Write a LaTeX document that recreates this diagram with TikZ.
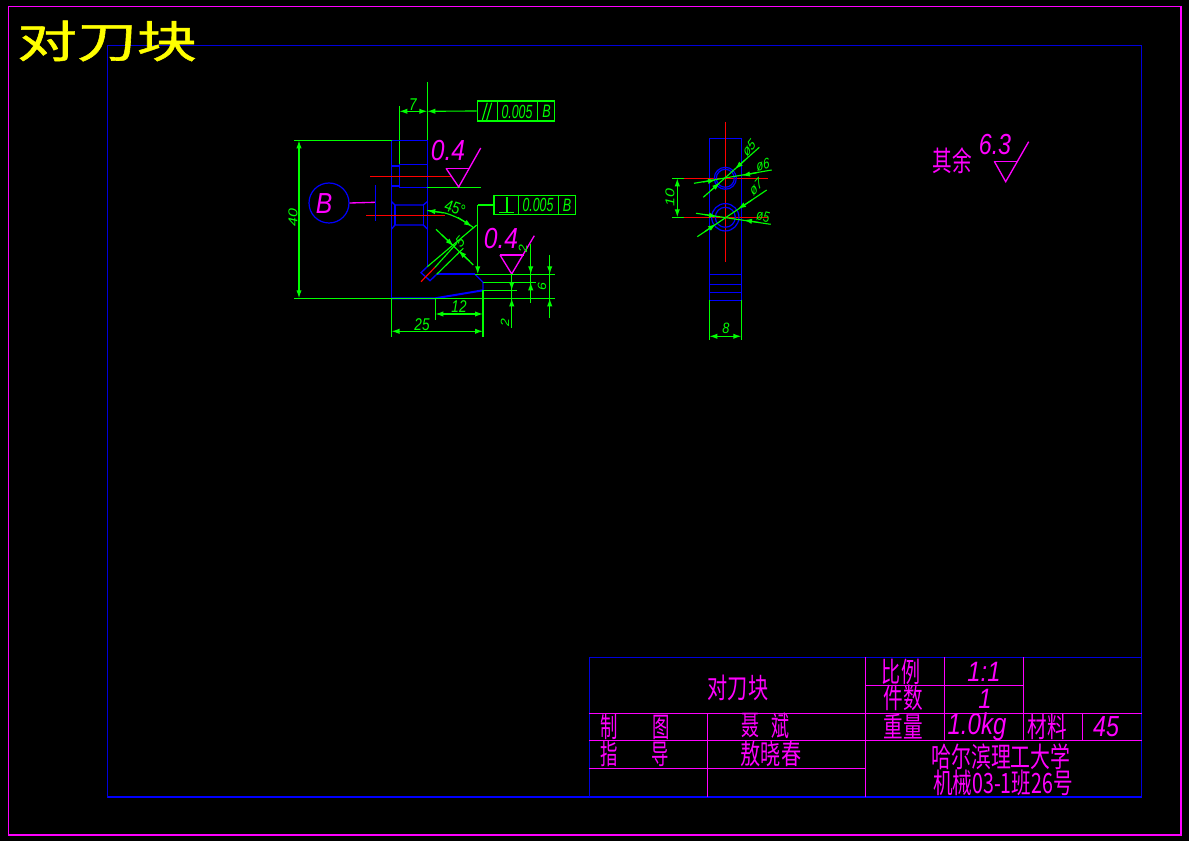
\documentclass[tikz,border=0pt]{standalone}
\usepackage{fontspec}
\usetikzlibrary{arrows.meta}
\newfontfamily\cjk{Noto Sans CJK SC}
\newfontfamily\cjkb[FakeBold=1]{Noto Sans CJK SC}
\setmainfont{Liberation Sans}
\definecolor{mg}{RGB}{255,0,255}
\definecolor{gr}{RGB}{0,255,0}
\definecolor{bl}{RGB}{0,0,255}
\definecolor{dbl}{RGB}{0,0,220}
\definecolor{rd}{RGB}{255,0,0}
\definecolor{yl}{RGB}{255,255,0}
\newcommand{\pxfont}[1]{\fontsize{\the\dimexpr #1pt*3/4\relax}{\the\dimexpr #1pt*3/4\relax}\selectfont}
\tikzset{
  gl/.style={draw=gr,line width=.85pt},
  bln/.style={draw=bl,line width=1pt},
  blt/.style={draw=bl,line width=1.5pt},
  fr/.style={draw=dbl,line width=.6pt},
  rl/.style={draw=rd,line width=1.1pt},
  ml/.style={draw=mg,line width=1pt},
  dim/.style={gl,{Latex[length=6pt,width=4pt,fill=gr]}-{Latex[length=6pt,width=4pt,fill=gr]}},
  tip/.style={gl,-{Latex[length=6pt,width=4pt,fill=gr]}},
  txt/.style={inner sep=0,outer sep=0,transform shape},
  cn/.style 2 args={txt,text=mg,font=\cjk\pxfont{#1},xscale=#2},
  en/.style 2 args={txt,text=mg,font=\itshape\pxfont{#1},xscale=#2},
  gt/.style 2 args={txt,text=gr,font=\itshape\pxfont{#1},xscale=#2},
}
\begin{document}
\begin{tikzpicture}[x=.75pt,y=-.75pt]
\useasboundingbox (0,0) rectangle (1189,841);
\fill[black] (0,0) rectangle (1189,841);
% frames
\draw[draw=mg,line width=.9pt] (8.5,6.5) rectangle (1181,835);
\draw[fr] (107.5,45.5) rectangle (1141.5,797);
\draw[blt] (107.5,797) -- (1141.5,797);
% title
\node[txt,text=yl,font=\cjkb\fontsize{33}{33}\selectfont,xscale=1.36] (ttl) at (107,41) {对刀块};
% ---- main view -----
\draw[gl] (427.3,82) -- (427.3,140.3);
\draw[gl] (399.3,106) -- (399.3,165);
\coordinate (d7a) at (399.3,111.3); \coordinate (d7b) at (427.3,111.3);
\draw[dim] (d7a) -- (d7b);
\node[draw=gr,line width=.9pt,minimum width=58pt,minimum height=15pt,inner sep=0,anchor=center] (box1) at (516,111) {};
\draw[tip] (box1.west) -- (d7b);
\draw[gl] (497.3,101) -- (497.3,121) (537.3,101) -- (537.3,121);
\draw[gl] (482.3,120) -- (487.3,102.7) (486.7,120) -- (491.7,102.7);
\node[gt={19}{.65}] (t1) at (517,111.7) {0.005};
\node[gt={18}{.7}] (t2) at (546.5,111.5) {B};
\node[gt={17}{.8}] (t7) at (413,105) {7};
% blue body
\draw[bln] (391.5,140.3) -- (427.3,140.3) -- (427.3,266.7);
\draw[bln] (391.5,140.3) -- (391.5,298.3);
\draw[bln] (399.3,165) -- (399.3,187.3);
\draw[bln] (399.3,164.5) -- (427.3,164.5) (391.5,166) -- (399.3,166) (391.5,186) -- (399.3,186) (399.3,187.3) -- (427.3,187.3);
\draw[bln] (391.5,201.7) -- (395,205) -- (423.3,205) -- (427.3,201.7);
\draw[bln] (391.5,229) -- (395,225) -- (423.3,225) -- (427.3,229);
\draw[bln] (395,205) -- (395,225) (423.3,205) -- (423.3,225);
\draw[bln] (427.3,266.7) -- (421,272.7) -- (430,280.7) -- (436.7,274.3);
\draw[blt] (436.7,274.3) -- (475,274.3);
\draw[bln] (475,274.3) -- (483,282.3) -- (483,290.3);
\draw[blt] (483,290.3) -- (435.3,298.3) -- (391.5,298.3);
% red
\draw[rl] (370,176.3) -- (451.7,176.3);
\draw[rl] (366,215.3) -- (445,215.3);
\draw[draw=rd,line width=.9pt] (421,281.7) -- (435,267.3);
% B circle
\node[circle,draw=bl,line width=.9pt,minimum size=30pt,inner sep=0] (cB) at (329,203) {};
\node[en={29}{.85}] (tB) at (324,204) {B};
\coordinate (bm) at (375.5,202.3);
\draw[ml] (cB.east) -- (bm);
\draw[bln] (375.5,185) -- (375.5,220.7);
% dim 40
\draw[gl] (294,140.3) -- (391.5,140.3);
\draw[gl] (294,298.3) -- (555,298.3);
\draw[dim] (299,140.3) -- (299,298.3);
\node[gt={16}{.8},rotate=90] (t40) at (293,218) {40};
% lines right
\draw[gl] (427.3,187.3) -- (481,187.3);
\draw[ml] (446,168.3) -- (469.3,168.3);
\draw[ml] (446,168.3) -- (458.7,187) -- (480.7,148);
\node[en={29}{.85}] (t04a) at (448,151) {0.4};
% 45 deg
\draw[gl] (427.3,210.5) -- (445,213) .. controls (455,216) and (463,220) .. (474,228);
\draw[tip] (443,212.7) -- (427.3,210.5);
\draw[tip] (458,217.5) -- (472,226.5);
\node[gt={17}{.8},rotate=-15] (t45) at (455,208) {45°};
% section diagonals
\draw[gl] (476.7,225) -- (427.3,266.7);
\draw[gl] (463.3,248.3) -- (436.7,274.3);
\draw[gl] (435,267.3) -- (456.7,243.3);
\draw[gl] (436,229.3) -- (473.3,265);
\draw[tip] (442,235) -- (453.5,246);
\draw[tip] (470,261.5) -- (458.5,250.5);
\node[gt={15}{.85},rotate=45] (t5) at (460,241.7) {5};
% box 2
\node[draw=gr,line width=.9pt,minimum width=61pt,minimum height=14.5pt,inner sep=0] (box2) at (534.7,205) {};
\coordinate (p2) at (477.7,205);
\coordinate (p3) at (477.7,274.3);
\draw[gl] (box2.west) -- (p2);
\draw[tip] (p2) -- (p3);
\draw[gl] (518.7,195) -- (518.7,214) (558.7,195) -- (558.7,214);
\draw[gl] (507,197) -- (507,212.7) (499,212.7) -- (514,212.7);
\node[gt={19}{.65}] (t3) at (538,205) {0.005};
\node[gt={18}{.7}] (t4) at (567,205.5) {B};
% roughness 2
\draw[ml] (500,255) -- (524.3,255);
\draw[ml] (500,255) -- (511.7,274) -- (534.3,235.7);
\node[en={29}{.85}] (t04b) at (501,239) {0.4};
% stacked extension lines
\draw[gl] (475,274.3) -- (555,274.3);
\draw[gl] (483,282.3) -- (536,282.3);
\draw[gl] (483,290.3) -- (516.7,290.3);
\draw[gl] (511.7,274) -- (511.7,328);
\draw[gl] (530.7,244) -- (530.7,302.7);
\draw[gl] (549.7,255) -- (549.7,318.3);
\draw[tip] (511.7,277) -- (511.7,290.3);
\draw[tip] (511.7,312) -- (511.7,298.3);
\draw[tip] (530.7,260) -- (530.7,274.3);
\draw[tip] (530.7,297) -- (530.7,282.3);
\draw[tip] (549.7,260) -- (549.7,274.3);
\draw[tip] (549.7,312) -- (549.7,298.3);
\node[gt={14}{.85},rotate=90] (t2a) at (523,249) {2};
\node[gt={14}{.85},rotate=90] (t6) at (542,287) {6};
\node[gt={14}{.85},rotate=90] (t2b) at (505,323) {2};
% bottom dims
\draw[gl] (435.3,298.3) -- (435.3,320);
\draw[gl] (483,290.3) -- (483,336.7);
\draw[gl] (391.5,298.3) -- (391.5,336.7);
\draw[dim] (435.3,314) -- (483,314);
\draw[dim] (391.5,331.3) -- (483,331.3);
\node[gt={17}{.8}] (t12) at (459,307) {12};
\node[gt={17}{.8}] (t25) at (422,324.5) {25};
% ---- side view ----
\draw[bln] (709.3,300.3) -- (709.3,138.3) -- (741.3,138.3) -- (741.3,300.3);
\draw[bln] (709.3,274.3) -- (741.3,274.3) (709.3,284.3) -- (741.3,284.3) (709.3,292.3) -- (741.3,292.3) (709.3,300.3) -- (741.3,300.3);
\draw[rl] (725.3,122) -- (725.3,262);
\draw[rl] (684,178.3) -- (768,178.3);
\draw[rl] (684,217.3) -- (768,217.3);
\draw[gl] (672,178.3) -- (684,178.3) (672,217.3) -- (684,217.3);
\draw[dim] (677.3,178.3) -- (677.3,217.3);
\node[gt={16}{.8},rotate=90] (t10) at (670,198) {10};
\node[circle,draw=bl,line width=.9pt,minimum size=16.5pt,inner sep=0] (c1) at (725.3,178.3) {};
\node[circle,draw=bl,line width=.9pt,minimum size=13.5pt,inner sep=0] (c2) at (725.3,178.3) {};
\node[circle,draw=bl,line width=.9pt,minimum size=20.5pt,inner sep=0] (c3) at (725.3,217.3) {};
\node[circle,draw=bl,line width=.9pt,minimum size=15pt,inner sep=0] (c4) at (725.3,217.3) {};
\draw[gl] (703.3,197.3) -- (759.3,147.3);
\draw[gl] (694,183.3) -- (771.7,170);
\draw[gl] (697.3,236.7) -- (766.7,190);
\draw[gl] (696,213.3) -- (770.7,224.3);
\draw[tip] (711,190.5) -- (720,182.5);
\draw[tip] (745,160) -- (735,169);
\draw[tip] (703,182) -- (716,180);
\draw[tip] (757,172.7) -- (742,175.5);
\draw[tip] (705,231.5) -- (716,224);
\draw[tip] (752,200) -- (738,209);
\draw[tip] (704,214.5) -- (717,216.5);
\draw[tip] (759,222.5) -- (744,220);
\node[gt={15}{.75},rotate=45] (p5a) at (749,148) {ø5};
\node[gt={15}{.75},rotate=10] (p6) at (763,165) {ø6};
\node[gt={15}{.75},rotate=40] (p7) at (756,187) {ø7};
\node[gt={15}{.75},rotate=-10] (p5b) at (763,216) {ø5};
\draw[gl] (709.3,300.3) -- (709.3,340) (741.3,300.3) -- (741.3,340);
\draw[dim] (709.3,336.3) -- (741.3,336.3);
\node[gt={15}{.85}] (t8) at (726,328) {8};
% roughness note
\node[cn={28}{.7}] (qy) at (952,161) {其余};
\node[en={29}{.8}] (t63) at (995,145) {6.3};
\draw[ml] (994.3,161.3) -- (1017.3,161.3);
\draw[ml] (994.3,161.3) -- (1005.7,181.7) -- (1028.7,141.7);
% ---- title block ----
\draw[fr] (589.3,657.3) -- (1141.5,657.3);
\draw[fr] (589.3,657.3) -- (589.3,797);
\draw[ml] (865.3,657.3) -- (865.3,797);
\draw[ml] (944.3,657.3) -- (944.3,740.3) (1023.3,657.3) -- (1023.3,740.3) (1082.3,713.3) -- (1082.3,740.3);
\draw[ml] (865.3,685.3) -- (1023.3,685.3);
\draw[ml] (589.3,713.3) -- (1141.5,713.3);
\draw[ml] (589.3,740.3) -- (1141.5,740.3);
\draw[ml] (589.3,768.3) -- (865.3,768.3);
\draw[ml] (707.3,713.3) -- (707.3,797);
\node[cn={28}{.72}] (a1) at (738,688) {对刀块};
\node[cn={28}{.62}] (a2) at (609,727) {制};
\node[cn={28}{.62}] (a3) at (661,727) {图};
\node[cn={28}{.62}] (a4) at (609,754) {指};
\node[cn={28}{.62}] (a5) at (660,754) {导};
\node[cn={28}{.64}] (a6) at (750,726) {聂};
\node[cn={28}{.64}] (a7) at (780,726) {斌};
\node[cn={28}{.72}] (a8) at (771,754) {敖晓春};
\node[cn={28}{.68}] (a9) at (901,672) {比例};
\node[cn={28}{.7}] (a10) at (903,698) {件数};
\node[cn={28}{.7}] (a11) at (903,727) {重量};
\node[cn={28}{.7}] (a12) at (1047,727) {材料};
\node[cn={28}{.71}] (a13) at (1001,757) {哈尔滨理工大学};
\node[cn={28}{.7}] (a14) at (1003,783) {机械03-1班26号};
\node[en={28}{.85}] (b1) at (984,671.5) {1:1};
\node[en={28}{.85}] (b2) at (985,699) {1};
\node[en={30}{.8}] (b3) at (977,727) {1.0kg};
\node[en={29}{.8}] (b4) at (1106,727) {45};
\end{tikzpicture}
\end{document}
